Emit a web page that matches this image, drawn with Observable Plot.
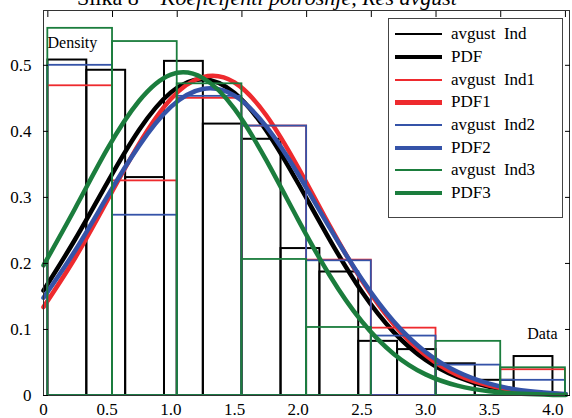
<!DOCTYPE html>
<html><head><meta charset="utf-8">
<script src="https://cdn.jsdelivr.net/npm/d3@7"></script>
<script src="https://cdn.jsdelivr.net/npm/@observablehq/plot@0.6"></script>
<style>
body{margin:0;background:#fff;}
#wrap{position:relative;width:572px;height:418px;overflow:hidden;}
#title{position:absolute;left:77px;top:-13px;font-family:"Liberation Serif","Times New Roman",serif;font-size:22px;line-height:22px;white-space:nowrap;color:#000;}
#title i{font-style:italic;}
#legend{position:absolute;left:388px;top:18px;width:175px;height:200px;box-sizing:border-box;border:1px solid #444;background:#fff;padding-top:4px;font-family:"Liberation Serif","Times New Roman",serif;font-size:17px;}
.row{display:flex;align-items:center;height:22.7px;}
.sw{margin-left:6px;width:47px;margin-right:9px;}
.lab{white-space:pre;}
</style>
</head><body>
<div id="wrap">
  <div id="chart"></div>
  <div id="title">Slika 8 – <i>Koeficijenti potrošnje, Res avgust</i></div>
  <div id="legend"></div>
</div>
<script>
// ---- data ----
const seriesNames = ["avgust  Ind", "PDF", "avgust  Ind1", "PDF1", "avgust  Ind2", "PDF2", "avgust  Ind3", "PDF3"];
const seriesColors = ["#000000", "#000000", "#ee2a2e", "#ee2a2e", "#3553a8", "#3553a8", "#1b7d3d", "#1b7d3d"];

const xTickValues = [0, 0.5, 1.0, 1.5, 2.0, 2.5, 3.0, 3.5, 4.0];
const xTickLabels = ["0", "0.5", "1.0", "1.5", "2.0", "2.5", "3.0", "3.5", "4.0"];
const yTickValues = [0, 0.1, 0.2, 0.3, 0.4, 0.5];
const yTickLabels = ["0", "0.1", "0.2", "0.3", "0.4", "0.5"];

// histogram bin edges
const edgesInd = [0.035, 0.34, 0.645, 0.95, 1.255, 1.56, 1.865, 2.17, 2.475, 2.78, 3.085, 3.39, 3.695, 4.0];
const edgesInd123 = [0.034, 0.542, 1.05, 1.558, 2.066, 2.574, 3.082, 3.59, 4.098];

// histogram densities
const densInd  = [0.508, 0.4925, 0.33, 0.506, 0.411, 0.388, 0.2225, 0.187, 0.082, 0.0695, 0.048, 0.023, 0.059];
const densInd1 = [0.469, 0.325, 0.45, 0.408, 0.205, 0.102, 0, 0.039];
const densInd2 = [0.5, 0.273, 0.453, 0.408, 0.204, 0.09, 0.046, 0.023];
const densInd3 = [0.556, 0.536, 0.472, 0.206, 0.103, 0, 0.082, 0.042];

// fitted PDF curves
const pdfX  = [0, 0.25, 0.5, 0.75, 1.0, 1.25, 1.5, 1.75, 2.0, 2.25, 2.5, 2.75, 3.0, 3.25, 3.5, 3.75, 4.0, 4.1];
const pdf0  = [0.159, 0.237, 0.322, 0.402, 0.459, 0.479, 0.458, 0.401, 0.321, 0.235, 0.157, 0.096, 0.054, 0.028, 0.013, 0.006, 0.0022, 0.0015];
const pdf1  = [0.134, 0.209, 0.295, 0.381, 0.449, 0.482, 0.474, 0.424, 0.345, 0.256, 0.174, 0.108, 0.061, 0.031, 0.015, 0.0063, 0.0025, 0.0017];
const pdf2  = [0.148, 0.220, 0.301, 0.378, 0.437, 0.464, 0.454, 0.407, 0.335, 0.253, 0.176, 0.112, 0.066, 0.036, 0.018, 0.008, 0.0034, 0.0023];
const pdf3  = [0.197, 0.284, 0.373, 0.446, 0.486, 0.481, 0.434, 0.356, 0.266, 0.181, 0.112, 0.063, 0.032, 0.015, 0.0064, 0.0025, 0.0009, 0.0006];

// ---- build ----
const bins = (edges, dens) => dens.map((d, i) => ({x1: edges[i], x2: edges[i + 1], y1: 0, y2: d}));
const pts = (ys) => ys.map((y, i) => ({x: pdfX[i], y}));
const hists = [bins(edgesInd, densInd), bins(edgesInd123, densInd1), bins(edgesInd123, densInd2), bins(edgesInd123, densInd3)];
const pdfs = [pts(pdf0), pts(pdf1), pts(pdf2), pts(pdf3)];

const marks = [];
for (let k = 0; k < 4; k++) {
  marks.push(Plot.rect(hists[k], {x1: "x1", x2: "x2", y1: "y1", y2: "y2", fill: "none", stroke: seriesColors[2 * k], strokeWidth: k === 0 ? 2 : 1.8}));
  marks.push(Plot.line(pdfs[k], {x: "x", y: "y", stroke: seriesColors[2 * k + 1], strokeWidth: 4.5, curve: "natural"}));
}

const blank = () => "";
const chart = Plot.plot({
  width: 572,
  height: 418,
  marginLeft: 43,
  marginRight: 3,
  marginTop: 10,
  marginBottom: 23,
  style: {fontFamily: "'Liberation Serif', 'Times New Roman', serif", fontSize: "17px", color: "#000", background: "#fff"},
  x: {domain: [0, 4.13]},
  y: {domain: [0, 0.583]},
  marks: [
    ...marks,
    Plot.frame({stroke: "#333", strokeWidth: 1}),
    Plot.axisX(xTickValues, {anchor: "bottom", tickSize: 0, tickPadding: 7, tickFormat: (d, i) => xTickLabels[i], label: null}),
    Plot.axisY(yTickValues, {anchor: "left", tickSize: 0, tickPadding: 12, tickFormat: (d, i) => yTickLabels[i], label: null}),
    Plot.axisY(yTickValues, {anchor: "left", tickSize: 5, dx: 5, tickFormat: blank, label: null}),
    Plot.axisY(yTickValues, {anchor: "right", tickSize: 5, dx: -5, tickFormat: blank, label: null}),
    Plot.axisX(edgesInd123, {anchor: "top", tickSize: 6, dy: 6, tickFormat: blank, label: null}),
    Plot.text(["Density"], {frameAnchor: "top-left", dx: 4, dy: 32, textAnchor: "start", lineAnchor: "middle", fontSize: 16}),
    Plot.text(["Data"], {frameAnchor: "bottom-right", dx: -12, dy: -62, textAnchor: "end", lineAnchor: "middle", fontSize: 16})
  ]
});
document.getElementById("chart").appendChild(chart);

const leg = document.getElementById("legend");
seriesNames.forEach((name, i) => {
  const row = document.createElement("div");
  row.className = "row";
  const sw = document.createElement("div");
  sw.className = "sw";
  const thick = i % 2 === 1 ? 4.5 : 2;
  sw.style.height = thick + "px";
  sw.style.background = seriesColors[i];
  const lab = document.createElement("span");
  lab.className = "lab";
  lab.textContent = name;
  row.appendChild(sw);
  row.appendChild(lab);
  leg.appendChild(row);
});
</script>
</body></html>
